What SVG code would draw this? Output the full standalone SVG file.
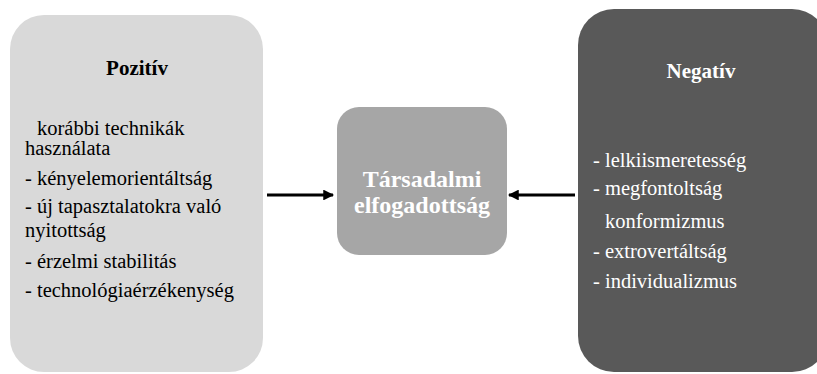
<svg xmlns="http://www.w3.org/2000/svg" width="817" height="374" viewBox="0 0 817 374">
<defs>
<marker id="ah" viewBox="0 0 10 10" refX="9" refY="5" markerWidth="4" markerHeight="3.6" orient="auto" markerUnits="strokeWidth"><path d="M0,0 L10,5 L0,10 z" fill="#000"/></marker>
<style>
text{font-family:"Liberation Serif","Times New Roman",serif;font-size:20.5px}
.h{font-weight:bold;font-size:21px}
.dk{fill:#000}
.wt{fill:#fff}
.c{text-anchor:middle}
.big{font-size:24px;font-weight:bold}
</style>
</defs>
<rect width="817" height="374" fill="#fff"/>
<g id="pozitiv">
<rect x="10" y="15" width="253" height="357" rx="34" fill="#d9d9d9"/>
<text class="h dk c" x="137" y="75">Pozitív</text>
<text class="dk" x="37" y="135">korábbi technikák</text>
<text class="dk" x="25" y="155">használata</text>
<text class="dk" x="25" y="185">- kényelemorientáltság</text>
<text class="dk" x="25" y="213">- új tapasztalatokra való</text>
<text class="dk" x="25" y="237">nyitottság</text>
<text class="dk" x="25" y="268">- érzelmi stabilitás</text>
<text class="dk" x="25" y="297">- technológiaérzékenység</text>
</g>
<g id="tarsadalmi">
<rect x="337" y="107" width="170" height="148" rx="22" fill="#a6a6a6"/>
<text class="big wt c" x="422" y="187">Társadalmi</text>
<text class="big wt c" x="422" y="213">elfogadottság</text>
</g>
<g id="negativ">
<rect x="578" y="9" width="250" height="363" rx="36" fill="#595959"/>
<text class="h wt c" x="701" y="78">Negatív</text>
<text class="wt" x="593" y="167">- lelkiismeretesség</text>
<text class="wt" x="593" y="195">- megfontoltság</text>
<text class="wt" x="605" y="228">konformizmus</text>
<text class="wt" x="593" y="258">- extrovertáltság</text>
<text class="wt" x="593" y="288">- individualizmus</text>
</g>
<g id="connectors" stroke="#000" stroke-width="3" fill="none">
<line x1="267" y1="195" x2="333" y2="195" marker-end="url(#ah)"/>
<line x1="575" y1="195" x2="509" y2="195" marker-end="url(#ah)"/>
</g>
</svg>
